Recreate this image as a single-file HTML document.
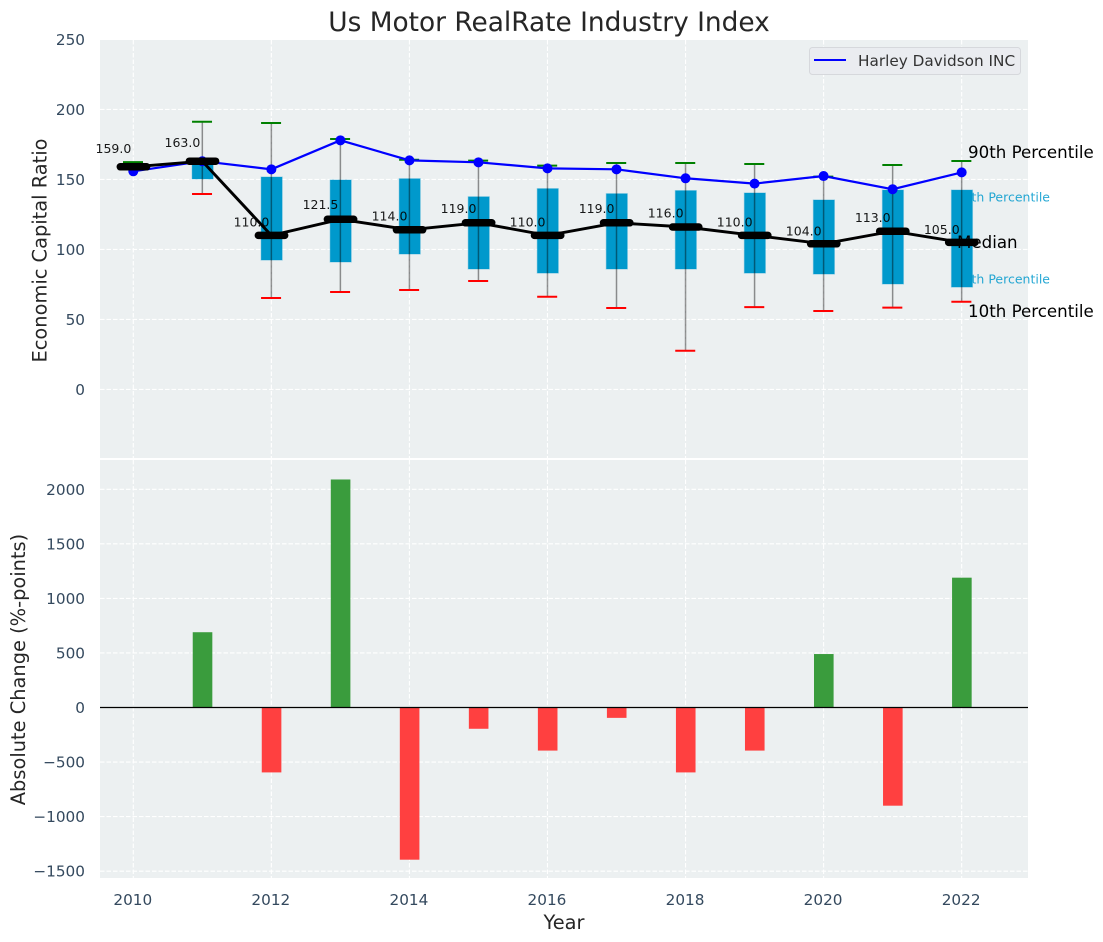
<!DOCTYPE html>
<html>
<head>
<meta charset="utf-8">
<title>Us Motor RealRate Industry Index</title>
<style>
html,body{margin:0;padding:0;background:#fff;width:1103px;height:942px;overflow:hidden}
svg{display:block;font-family:"DejaVu Sans","Liberation Sans",sans-serif}
</style>
</head>
<body>
<svg id="chart" xmlns="http://www.w3.org/2000/svg" width="1103" height="942" viewBox="0 0 1103 942">
  <rect x="100" y="40" width="928" height="418" fill="#ecf0f1"/>
  <rect x="100" y="460" width="928" height="418" fill="#ecf0f1"/>
  <g id="grid"></g>
  <g id="ticks"></g>
  <g id="peer-labels-back">
    <text x="1050" y="201.5" text-anchor="end" font-size="12.5" fill="#0099cc" fill-opacity="0.85">75th Percentile</text>
    <text x="1050" y="283.5" text-anchor="end" font-size="12.5" fill="#0099cc" fill-opacity="0.85">25th Percentile</text>
  </g>
  <g id="boxes"></g>
  <g id="bars"></g>
  <line x1="100" x2="1028" y1="707.5" y2="707.5" stroke="#000" stroke-width="1.2"/>
  <g id="lines"></g>
  <text x="549" y="31" text-anchor="middle" font-size="26.4" fill="#262626">Us Motor RealRate Industry Index</text>
  <text transform="translate(46.5,250.5) rotate(-90)" text-anchor="middle" font-size="19.4" fill="#262626">Economic Capital Ratio</text>
  <text transform="translate(25,669.5) rotate(-90)" text-anchor="middle" font-size="19.4" fill="#262626">Absolute Change (%-points)</text>
  <text x="564" y="929" text-anchor="middle" font-size="19.4" fill="#262626">Year</text>
  <text x="968" y="158" font-size="16.67" fill="#000">90th Percentile</text>
  <text x="957" y="248" font-size="16.67" fill="#000">Median</text>
  <text x="968" y="317" font-size="16.67" fill="#000">10th Percentile</text>
  <g>
    <rect x="809.5" y="47.5" width="211" height="27" rx="3" fill="#eaecf0" stroke="#d6d8dc" stroke-width="1"/>
    <line x1="814" x2="846" y1="60" y2="60" stroke="#0000ff" stroke-width="2"/>
    <text x="858" y="66" font-size="15.28" fill="#333333">Harley Davidson INC</text>
  </g>
</svg>
<script>
const years = [2010,2011,2012,2013,2014,2015,2016,2017,2018,2019,2020,2021,2022];
const company = [155.8,163,157.2,177.9,163.6,162.2,157.9,157.2,150.8,147,152.4,143,155];
const medians = [159,163,110,121.5,114,119,110,119,116,110,104,113,105];
const p90 = [162.3,191.2,190.3,178.9,164,163.4,159.8,161.7,161.7,161,152,160.3,163.1];
const p75 = [159,163,151.7,149.6,150.5,137.6,143.4,139.8,142,140.3,135.3,142.4,142.4];
const p25 = [159,150.3,92.4,91,96.7,86,83.1,86,86,83.1,82.4,75.3,73.1];
const p10 = [159,139.6,65.3,69.6,71,77.4,66.2,58.1,27.6,58.8,56,58.4,62.6];
const changes = [0,690,-595,2090,-1395,-195,-395,-95,-595,-395,490,-900,1190];
const topTicks = [0,50,100,150,200,250];
const bottomTicks = [-1500,-1000,-500,0,500,1000,1500,2000];
const xTicks = [2010,2012,2014,2016,2018,2020,2022];

const NS = 'http://www.w3.org/2000/svg';
const xs = function (y) { return 133.3 + 69.03 * (y - 2010); };
const ys = function (v) { return 389.4 - 1.4 * v; };
const yb = function (v) { return 707.5 - 0.1091 * v; };
function make(tag, parentId, props, txt) {
  const el = document.createElementNS(NS, tag);
  for (const k in props) el.setAttribute(k, props[k]);
  if (txt !== undefined) el.textContent = txt;
  document.getElementById(parentId).appendChild(el);
  return el;
}
const DASH = '4.5,2';
const gridStyle = {stroke:'#ffffff','stroke-width':1.1,'stroke-dasharray':DASH};

topTicks.forEach(function (t) {
  const g = make('line','grid',Object.assign({x1:100,x2:1028,y1:ys(t),y2:ys(t)},gridStyle));
  
  
  const l = make('text','ticks',{x:85,y:ys(t)+5.5,'text-anchor':'end','font-size':15.28,fill:'#34495e'},String(t));
  
  
});
bottomTicks.forEach(function (t) {
  const g = make('line','grid',Object.assign({x1:100,x2:1028,y1:yb(t),y2:yb(t)},gridStyle));
  
  
  const l = make('text','ticks',{x:85,y:yb(t)+5.5,'text-anchor':'end','font-size':15.28,fill:'#34495e'},String(t).replace('-','\u2212'));
  
  
});
xTicks.forEach(function (t) {
  const a = make('line','grid',Object.assign({x1:xs(t),x2:xs(t),y1:40,y2:458},gridStyle));
  
  
  const b = make('line','grid',Object.assign({x1:xs(t),x2:xs(t),y1:460,y2:878},gridStyle));
  
  
  const l = make('text','ticks',{x:xs(t)-0.5,y:905,'text-anchor':'middle','font-size':15.28,fill:'#34495e'},String(t));
  
  
});

years.forEach(function (yr, i) {
  const x = xs(yr);
  const box = make('rect','boxes',{x:x-10.2,y:ys(p75[i]),width:21,height:Math.max(0,ys(p25[i])-ys(p75[i])),fill:'#0099cc',stroke:'#0099cc','stroke-opacity':0.3,'stroke-width':1.2});
  
  
  const w = make('line','boxes',{x1:x,x2:x,y1:ys(p90[i]),y2:ys(p10[i]),stroke:'#000','stroke-opacity':0.42,'stroke-width':1.5});
  
  
  const c1 = make('line','boxes',{x1:x-10.3,x2:x+9.7,y1:ys(p90[i]),y2:ys(p90[i]),stroke:'#008000','stroke-width':2});
  
  
  const c2 = make('line','boxes',{x1:x-10.3,x2:x+9.7,y1:ys(p10[i]),y2:ys(p10[i]),stroke:'#ff0000','stroke-width':2});
  
  

  if (changes[i] !== 0) {
    const y0 = yb(Math.max(changes[i],0));
    const y1 = yb(Math.min(changes[i],0));
    const bar = make('rect','bars',{x:x-9.6,y:y0,width:19.6,height:y1-y0,fill:changes[i]>0?'#3a9c3d':'#ff4040'});
    
    
  }
});

const companyPts = years.map(function (yr,i) { return xs(yr)+','+ys(company[i]); }).join(' ');
const companyLine = make('polyline','lines',{points:companyPts,fill:'none',stroke:'#0000ff','stroke-width':2.2});


years.forEach(function (yr,i) {
  const d = make('circle','lines',{cx:xs(yr),cy:ys(company[i]),r:5,fill:'#0000ff'});
  
  
});
const medianPts = years.map(function (yr,i) { return xs(yr)+','+ys(medians[i]); }).join(' ');
const medianLine = make('polyline','lines',{points:medianPts,fill:'none',stroke:'#000','stroke-width':2.9});


years.forEach(function (yr,i) {
  const x = xs(yr);
  const m = make('line','lines',{x1:x-13,x2:x+13.3,y1:ys(medians[i]),y2:ys(medians[i]),stroke:'#000','stroke-width':7.5,'stroke-linecap':'round'});
  
  
  const t = make('text','lines',{x:x-2,y:ys(medians[i]*1.07+2)+4.5,'text-anchor':'end','font-size':12.5,fill:'#000','fill-opacity':0.9},medians[i].toFixed(1));
  
  
});
</script>
</body>
</html>
